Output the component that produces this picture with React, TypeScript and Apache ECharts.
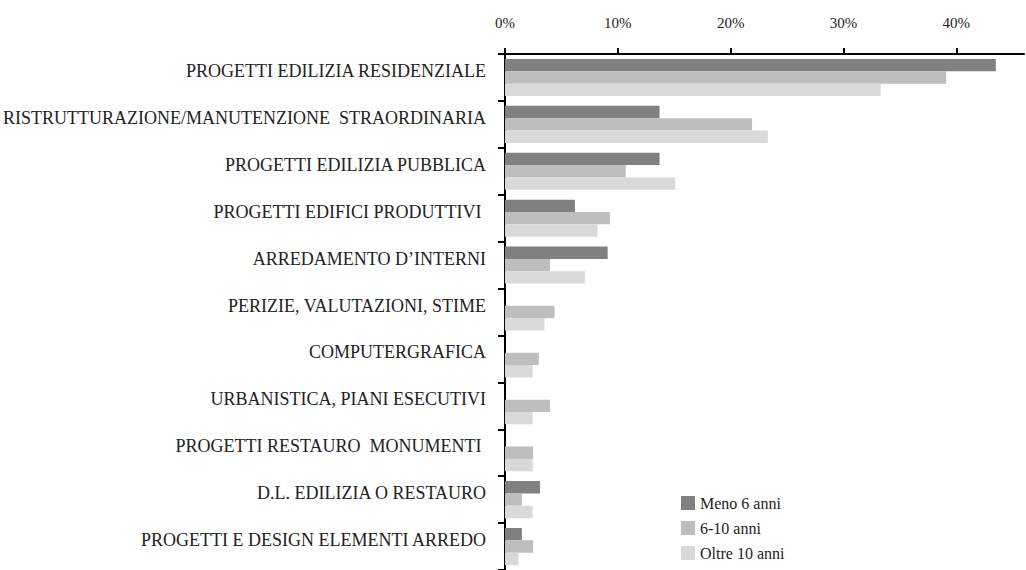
import React, { useEffect, useRef } from "react";
import * as echarts from "echarts";

const categories = [
  "PROGETTI EDILIZIA RESIDENZIALE",
  "RISTRUTTURAZIONE/MANUTENZIONE  STRAORDINARIA",
  "PROGETTI EDILIZIA PUBBLICA",
  "PROGETTI EDIFICI PRODUTTIVI ",
  "ARREDAMENTO D’INTERNI",
  "PERIZIE, VALUTAZIONI, STIME",
  "COMPUTERGRAFICA",
  "URBANISTICA, PIANI ESECUTIVI",
  "PROGETTI RESTAURO  MONUMENTI ",
  "D.L. EDILIZIA O RESTAURO",
  "PROGETTI E DESIGN ELEMENTI ARREDO",
];

const meno6 = [43.5, 13.7, 13.7, 6.2, 9.1, 0, 0, 0, 0, 3.1, 1.5];
const da6a10 = [39.1, 21.9, 10.7, 9.3, 4.0, 4.4, 3.0, 4.0, 2.5, 1.5, 2.5];
const oltre10 = [33.3, 23.3, 15.1, 8.2, 7.1, 3.5, 2.45, 2.45, 2.45, 2.45, 1.2];

const seriesNames = ["Meno 6 anni", "6-10 anni", "Oltre 10 anni"];
const tickValues = [0, 10, 20, 30, 40];

const FONT = "'Liberation Serif', serif";

export default function App() {
  const ref = useRef<HTMLDivElement>(null);
  useEffect(() => {
    if (!ref.current) return;
    const chart = echarts.init(ref.current, null, { renderer: "svg" });
    const colors = ["#808080", "#bebebe", "#d9d9d9"];
    const data = [meno6, da6a10, oltre10];
    chart.setOption({
      animation: false,
      backgroundColor: "#ffffff",
      legend: {
        orient: "vertical",
        left: 681,
        top: 495,
        padding: 0,
        itemGap: 9,
        itemWidth: 14,
        itemHeight: 14,
        icon: "rect",
        textStyle: { fontFamily: FONT, fontSize: 16, color: "#222" },
        data: seriesNames,
      },
      grid: { left: 504, top: 54, width: 520, height: 519, containLabel: false },
      xAxis: {
        type: "value",
        position: "top",
        min: 0,
        max: 46,
        axisLine: { show: true, lineStyle: { color: "#000", width: 2 } },
        axisTick: { show: true, length: 6, customValues: tickValues, lineStyle: { color: "#000", width: 2 } },
        splitLine: { show: false },
        axisLabel: {
          customValues: tickValues,
          formatter: (v: number) => `${v}%`,
          fontFamily: FONT,
          fontSize: 15,
          color: "#222",
          margin: 24,
        },
      },
      yAxis: {
        type: "category",
        inverse: true,
        data: categories,
        axisLine: { show: true, lineStyle: { color: "#000", width: 2 } },
        axisTick: { show: true, length: 7, lineStyle: { color: "#000", width: 2 } },
        axisLabel: {
          fontFamily: FONT,
          fontSize: 18,
          color: "#222",
          margin: 19,
          verticalAlign: "bottom",
          lineHeight: 13,
        },
      },
      series: seriesNames.map((name, i) => ({
        name,
        type: "bar",
        data: data[i],
        barGap: "0%",
        barCategoryGap: "21%",
        itemStyle: { color: colors[i] },
      })),
    });
    return () => chart.dispose();
  }, []);
  return (
    <div
      ref={ref}
      style={{ position: "fixed", left: 0, top: 0, width: 1026, height: 570 }}
    />
  );
}
